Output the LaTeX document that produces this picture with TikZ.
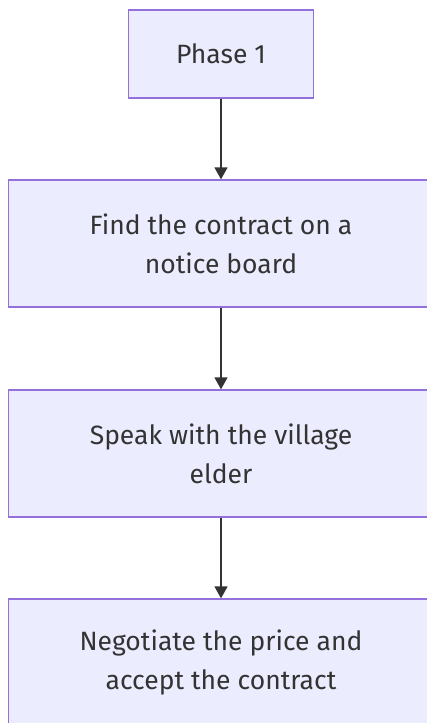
\documentclass[tikz,border=0pt]{standalone}
\usepackage{fontspec}
\setmainfont{Fira Sans}
\usepackage{xcolor}
\usetikzlibrary{positioning,arrows.meta}
\definecolor{boxfill}{HTML}{ECECFF}
\definecolor{boxline}{HTML}{9370DB}
\definecolor{inktext}{HTML}{333333}

\begin{document}
\begin{tikzpicture}[x=1pt, y=-1pt,
    stepbox/.style={draw=boxline, fill=boxfill, line width=1.3pt, text=inktext,
        align=center, inner sep=0pt, font=\fontsize{26.5}{39}\selectfont},
    flowarrow/.style={draw=inktext, line width=1.5pt, -{Triangle[length=12pt,width=13pt]}}]
    \useasboundingbox (0,0) rectangle (427,723);
    \fill[white] (0,0) rectangle (427,723);

    % Phase header
    \node [stepbox, minimum width=185pt, minimum height=88pt] (phase) at (221,54) {Phase 1};

    % Steps
    \node [stepbox, minimum width=425pt, minimum height=127pt] (notice) at (221,243.5) {Find the contract on a\\notice board};
    \node [stepbox, minimum width=425pt, minimum height=127pt] (elder) at (221,453.5) {Speak with the village\\elder};
    \node [stepbox, minimum width=425pt, minimum height=127pt] (deal) at (221,662.5) {Negotiate the price and\\accept the contract};

    % Arrows
    \draw [flowarrow] (phase) -- (notice);
    \draw [flowarrow] (notice) -- (elder);
    \draw [flowarrow] (elder) -- (deal);
\end{tikzpicture}
\end{document}
